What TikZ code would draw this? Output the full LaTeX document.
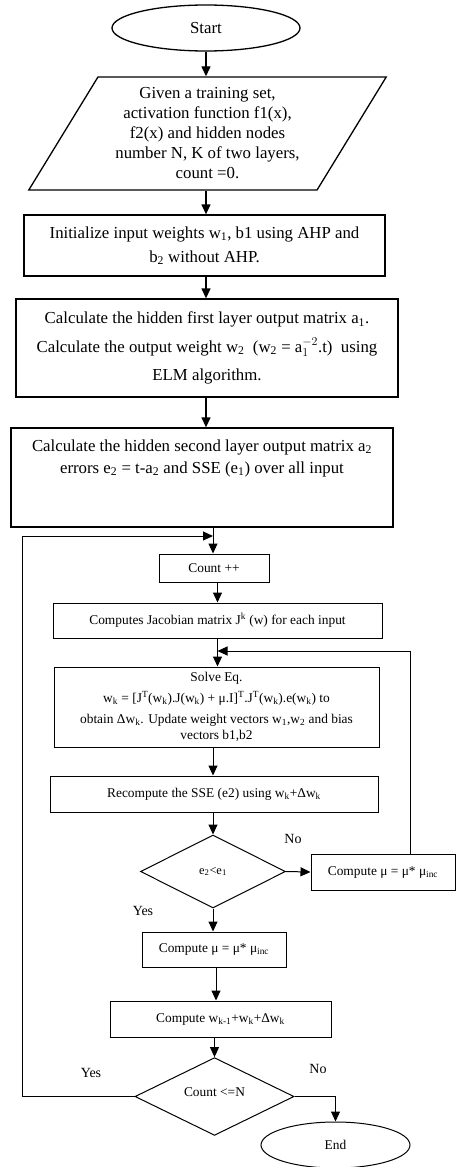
\documentclass[tikz,border=0pt]{standalone}
\usepackage{fontspec}
\setmainfont{Liberation Serif}
\usetikzlibrary{shapes.geometric,arrows.meta}
\tikzset{>={Triangle[length=10pt,width=9pt]}}
\tikzset{
  upper/.style={draw=black,line width=1.3pt,inner sep=0pt,align=center,font=\fontsize{16.8}{20}\selectfont},
  lower/.style={draw=black,line width=1pt,inner sep=0pt,align=center,font=\fontsize{13.4}{21}\selectfont},
  flowline/.style={draw=black,line width=1.3pt},
  thinline/.style={draw=black,line width=1pt},
  yesno/.style={font=\fontsize{14}{16}\selectfont},
}

\begin{document}
\begin{tikzpicture}[x=1pt,y=-1pt]
\useasboundingbox (0,0) rectangle (457,1167);
\node[upper,ellipse,minimum width=188,minimum height=46] (start) at (206,28) {Start};
\node[upper,trapezium,trapezium left angle=57.5,trapezium right angle=122.5,trapezium stretches=true,minimum width=359,minimum height=113] (given) at (207.5,133.5) {Given a training set,\\activation function f1(x),\\f2(x) and hidden nodes\\number N, K of two layers,\\count =0.};
\node[upper,rectangle,minimum width=361,minimum height=61,font=\fontsize{16.8}{24}\selectfont] (init) at (204.5,245.5) {Initialize input weights w\textsubscript{1}, b1 using AHP and\\b\textsubscript{2} without AHP.};
\node[upper,rectangle,minimum width=382,minimum height=98,font=\fontsize{16.8}{28.5}\selectfont] (calc1) at (207,348) {Calculate the hidden first layer output matrix a\textsubscript{1}.\\Calculate the output weight w\textsubscript{2} \ (w\textsubscript{2} = a$^{-2}_{1}$.t) \ using\\ELM algorithm.};
\node[upper,rectangle,minimum width=382,minimum height=99] (calc2) at (202,477.5) {};
\node[anchor=north,align=center,font=\fontsize{16.8}{22}\selectfont] (calc2txt) at (202,436) {Calculate the hidden second layer output matrix a\textsubscript{2}\\errors e\textsubscript{2} = t-a\textsubscript{2} and SSE (e\textsubscript{1}) over all input};
\coordinate (join) at (213,536);
\coordinate (loopc) at (22,536);
\node[lower,rectangle,minimum width=110,minimum height=28] (count) at (214,568) {Count ++};
\node[lower,rectangle,minimum width=329,minimum height=35] (jacob) at (217.5,620.5) {Computes Jacobian matrix J\textsuperscript{k} (w) for each input};
\coordinate (fb) at (410,651);
\node[lower,rectangle,minimum width=325,minimum height=80] (solve) at (216.5,707) {Solve Eq.\\w\textsubscript{k} = [J\textsuperscript{T}(w\textsubscript{k}).J(w\textsubscript{k}) + μ.I]\textsuperscript{T}.J\textsuperscript{T}(w\textsubscript{k}).e(w\textsubscript{k}) to\\obtain Δw\textsubscript{k}. Update weight vectors w\textsubscript{1},w\textsubscript{2} and bias\\[-5pt]vectors b1,b2};
\node[lower,rectangle,minimum width=328,minimum height=36] (recomp) at (214,794) {Recompute the SSE (e2) using w\textsubscript{k}+Δw\textsubscript{k}};
\node[lower,diamond,minimum width=145,minimum height=73,font=\fontsize{12.4}{14}\selectfont] (dec1) at (213,871.5) {e\textsubscript{2}<e\textsubscript{1}};
\node[lower,rectangle,minimum width=144,minimum height=36] (muno) at (383,872) {Compute μ = μ* μ\textsubscript{inc}};
\node[lower,rectangle,minimum width=144,minimum height=35] (muyes) at (214,949.5) {Compute μ = μ* μ\textsubscript{inc}};
\node[lower,rectangle,minimum width=221,minimum height=36] (wupd) at (220.5,1019) {Compute w\textsubscript{k-1}+w\textsubscript{k}+Δw\textsubscript{k}};
\node[lower,diamond,minimum width=159,minimum height=73] (dec2) at (214.5,1096.5) {\raisebox{8pt}{Count <=N}};
\node[lower,ellipse,minimum width=149,minimum height=46] (end) at (335.5,1145) {End};
\node[yesno] (no1) at (293,839) {No};
\node[yesno] (yes1) at (143,911) {Yes};
\node[yesno] (yes2) at (91,1073) {Yes};
\node[yesno] (no2) at (318,1069) {No};
% upper part
\path[flowline,->] (start.south) -- (start.south |- given.north);
\path[flowline,->] (start.south |- given.south) -- (start.south |- init.north);
\path[flowline,->] (start.south |- init.south) -- (start.south |- calc1.north);
\path[flowline,->] (start.south |- calc1.south) -- (start.south |- calc2.north);
\path[thinline] (join |- calc2.south) -- (join);
\path[thinline,->] (join) -- (join |- count.north);
% loop part
\path[thinline,->] (jacob.north |- count.south) -- (jacob.north);
\path[thinline,->] (jacob.south) -- (jacob.south |- solve.north);
\path[thinline,->] (muno.north -| fb) -- (fb) -- (jacob.south |- fb);
\path[thinline,->] (join |- solve.south) -- (join |- recomp.north);
\path[thinline,->] (join |- recomp.south) -- (dec1.north);
\path[thinline,->] (dec1.east) -- (muno.west);
\path[thinline,->] (dec1.south) -- (dec1.south |- muyes.north);
\path[thinline,->] (216,0 |- muyes.south) -- (216,0 |- wupd.north);
\path[thinline,->] (dec2.north |- wupd.south) -- (dec2.north);
\path[thinline,->] (dec2.east) -| (end.north);
\path[thinline,->] (dec2.west) -| (loopc) -- (join);
\end{tikzpicture}
\end{document}
